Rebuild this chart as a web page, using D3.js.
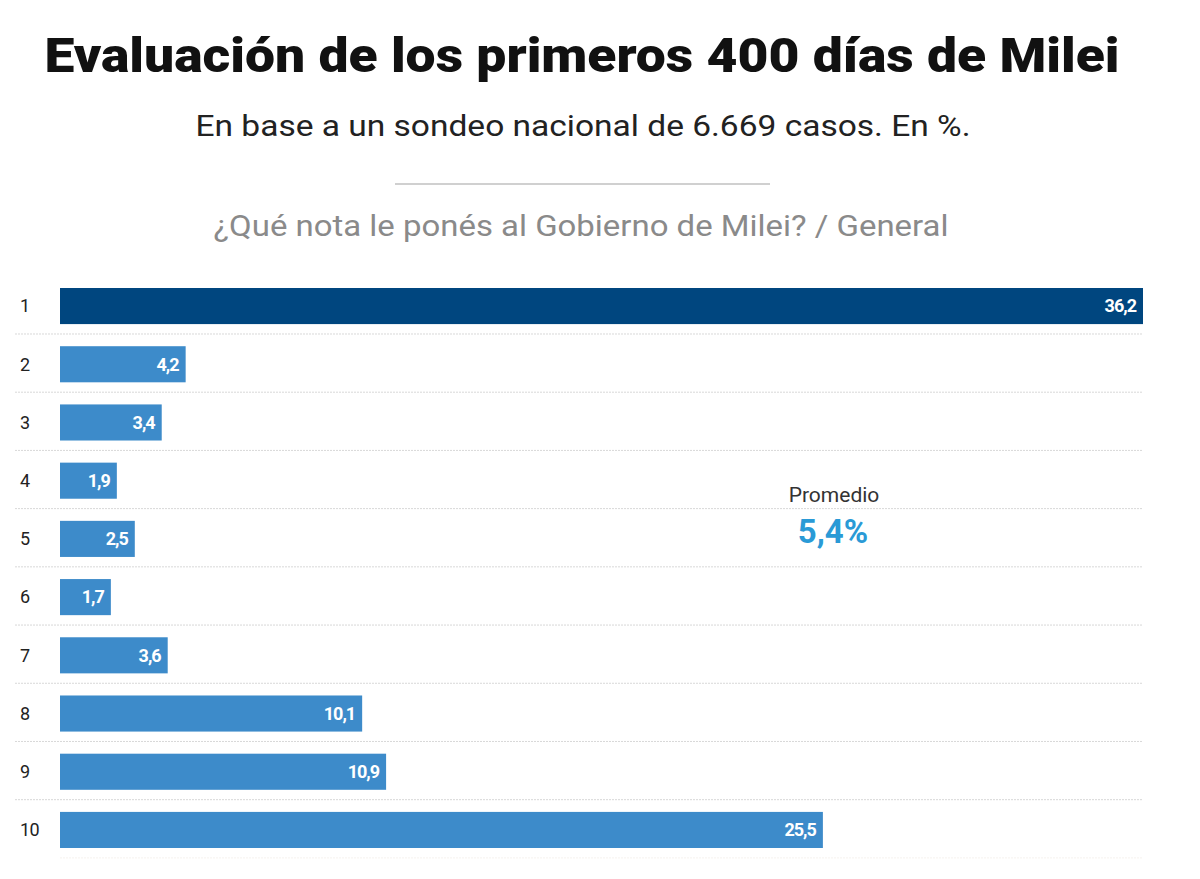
<!DOCTYPE html>
<html>
<head>
<meta charset="utf-8">
<script src="https://cdn.jsdelivr.net/npm/d3@7"></script>
<style>
  body { margin: 0; background: #fff; }
  svg text { font-family: Roboto, "Noto Sans", sans-serif; }
</style>
</head>
<body>
<div id="chart"></div>
<script>
// notas del 1 al 10 y su porcentaje
const notas = ["1", "2", "3", "4", "5", "6", "7", "8", "9", "10"];
const porcentajes = [36.2, 4.2, 3.4, 1.9, 2.5, 1.7, 3.6, 10.1, 10.9, 25.5];
const promedio = 5.4;

const titulo = "Evaluación de los primeros 400 días de Milei";
const subtitulo = "En base a un sondeo nacional de 6.669 casos. En %.";
const pregunta = "¿Qué nota le ponés al Gobierno de Milei? / General";

const width = 1200, height = 879;
const margin = {top: 288, left: 60, right: 57, bottom: 31};

let svg = d3.select("#chart").append("svg")
    .attr("width", width)
    .attr("height", height);

// encabezado
svg.append("text")
    .attr("x", 582).attr("y", 72)
    .attr("text-anchor", "middle")
    .attr("font-size", 48)
    .attr("font-weight", 900)
    .attr("fill", "#111")
    .attr("textLength", 1075)
    .attr("lengthAdjust", "spacingAndGlyphs")
    .text(titulo);

svg.append("text")
    .attr("x", 583).attr("y", 136)
    .attr("text-anchor", "middle")
    .attr("font-size", 30)
    .attr("fill", "#222")
    .attr("textLength", 775)
    .attr("lengthAdjust", "spacingAndGlyphs")
    .text(subtitulo);

svg.append("line")
    .attr("x1", 395).attr("x2", 770)
    .attr("y1", 184).attr("y2", 184)
    .attr("stroke", "#d0d0d0")
    .attr("stroke-width", 2);

svg.append("text")
    .attr("x", 581).attr("y", 236)
    .attr("text-anchor", "middle")
    .attr("font-size", 30)
    .attr("fill", "#8a8a8a")
    .attr("textLength", 735)
    .attr("lengthAdjust", "spacingAndGlyphs")
    .text(pregunta);

// escalas
let x = d3.scaleLinear()
    .domain([0, d3.max(porcentajes)])
    .range([margin.left, width - margin.right]);

let y = d3.scaleBand()
    .domain(notas)
    .range([margin.top, height - margin.bottom])
    .paddingInner(0.38)
    .paddingOuter(0)
    .align(0);

let filas = notas.map((n, i) => ({nota: n, valor: porcentajes[i]}));

// separadores punteados
svg.append("g").selectAll("line")
    .data(filas)
    .join("line")
    .attr("x1", (d, i) => i === filas.length - 1 ? x(0) : 15)
    .attr("x2", x.range()[1])
    .attr("y1", d => y(d.nota) + y.bandwidth() + y.step() * 0.17)
    .attr("y2", d => y(d.nota) + y.bandwidth() + y.step() * 0.17)
    .attr("stroke", (d, i) => i === filas.length - 1 ? "#f6f2ee" : "#d8d8d8")
    .attr("stroke-width", 1)
    .attr("stroke-dasharray", "2,1");

// barras
svg.append("g").selectAll("rect")
    .data(filas)
    .join("rect")
    .attr("x", x(0))
    .attr("y", d => y(d.nota))
    .attr("width", d => x(d.valor) - x(0))
    .attr("height", y.bandwidth())
    .attr("fill", (d, i) => i === 0 ? "#00467f" : "#3d8bca");

// etiquetas de nota
svg.append("g").selectAll("text")
    .data(filas)
    .join("text")
    .attr("x", 20)
    .attr("y", d => y(d.nota) + y.bandwidth() / 2)
    .attr("dy", "0.35em")
    .attr("font-size", 18)
    .attr("fill", "#222")
    .attr("letter-spacing", -0.5)
    .text(d => d.nota);

// valores dentro de las barras
svg.append("g").selectAll("text")
    .data(filas)
    .join("text")
    .attr("x", d => x(d.valor) - 7)
    .attr("y", d => y(d.nota) + y.bandwidth() / 2)
    .attr("dy", "0.35em")
    .attr("text-anchor", "end")
    .attr("font-size", 18)
    .attr("font-weight", 700)
    .attr("letter-spacing", -1)
    .attr("fill", "#fff")
    .text(d => String(d.valor).replace(".", ","));

// promedio
svg.append("text")
    .attr("x", 834).attr("y", 502)
    .attr("text-anchor", "middle")
    .attr("font-size", 21)
    .attr("fill", "#333")
    .text("Promedio");

svg.append("text")
    .attr("x", 833).attr("y", 543)
    .attr("text-anchor", "middle")
    .attr("font-size", 33)
    .attr("font-weight", 700)
    .attr("fill", "#2a9ad6")
    .text(String(promedio).replace(".", ",") + "%");
</script>
</body>
</html>
